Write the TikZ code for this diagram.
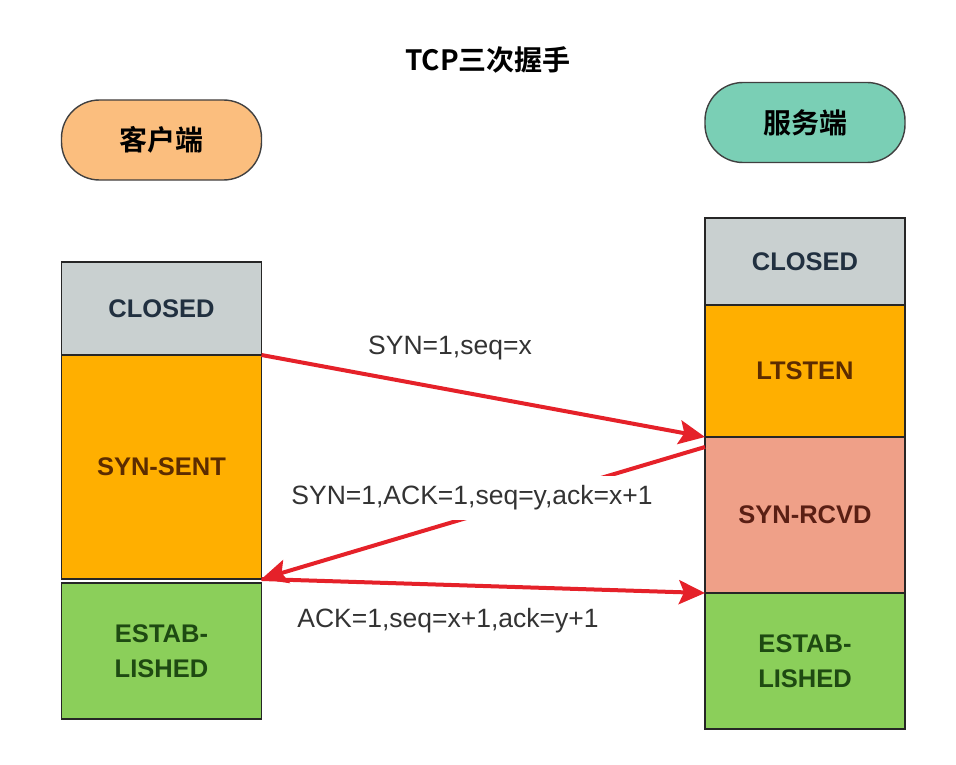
\documentclass[tikz,border=0pt]{standalone}
\usepackage{fontspec}
\setmainfont{Liberation Sans}
\newfontfamily\cjk{Noto Sans CJK SC}[BoldFont={Noto Sans CJK SC Bold}]
\usepackage{xcolor}
\usetikzlibrary{positioning,arrows.meta}
\definecolor{closedgray}{HTML}{C9D0D0}
\definecolor{waitorange}{HTML}{FFAF00}
\definecolor{rcvdsalmon}{HTML}{EFA088}
\definecolor{estabgreen}{HTML}{8BCF5A}
\definecolor{clientpill}{HTML}{FBBE7E}
\definecolor{serverpill}{HTML}{7ACFB5}
\definecolor{msgred}{HTML}{E52129}

\begin{document}
\begin{tikzpicture}[x=1pt,y=-1pt,
stbox/.style={draw=black!85,line width=1.6pt,rectangle,outer sep=0pt,inner sep=0pt,
  minimum width=200pt,align=center,font=\fontsize{25.5}{35}\selectfont\bfseries},
endbox/.style={draw=black!75,line width=1.4pt,rounded corners=38pt,minimum width=200pt,
  minimum height=80pt,font=\cjk\fontsize{28}{30}\selectfont\bfseries},
msg/.style={draw=msgred,line width=4pt,-{Stealth[length=26pt,width=24pt,inset=5pt]}},
msglabel/.style={font=\fontsize{26.5}{30}\selectfont,text=black!80}]
\useasboundingbox (0,0) rectangle (956,765);

\node[font=\cjk\fontsize{28}{30}\selectfont\bfseries] (title) at (488,60) {TCP三次握手};
\node[endbox,fill=clientpill] (client) at (161.5,140) {客户端};
\node[endbox,fill=serverpill] (server) at (805,122.5) {服务端};

% client side
\node[stbox,fill=closedgray,minimum height=93pt,text={rgb,255:red,33;green,48;blue,64}] (cclosed) at (161.5,308.5) {CLOSED};
\node[stbox,fill=waitorange,minimum height=224pt,text={rgb,255:red,92;green,44;blue,0},below=0pt of cclosed] (csent) {SYN-SENT};
\node[stbox,fill=estabgreen,minimum height=136pt,text={rgb,255:red,30;green,74;blue,18},below=4pt of csent] (cestab) {ESTAB-\\LISHED};

% server side
\node[stbox,fill=closedgray,minimum height=87pt,text={rgb,255:red,33;green,48;blue,64}] (sclosed) at (805,261.5) {CLOSED};
\node[stbox,fill=waitorange,minimum height=132pt,text={rgb,255:red,92;green,44;blue,0},below=0pt of sclosed] (slisten) {LTSTEN};
\node[stbox,fill=rcvdsalmon,minimum height=156pt,text={rgb,255:red,90;green,31;blue,20},below=0pt of slisten] (srcvd) {SYN-RCVD};
\node[stbox,fill=estabgreen,minimum height=136pt,text={rgb,255:red,30;green,74;blue,18},below=0pt of srcvd] (sestab) {ESTAB-\\LISHED};

% handshake
\draw[msg] (cclosed.south east) -- (slisten.south west);
\draw[msg] ([yshift=-10pt]srcvd.north west) -- (csent.south east);
\draw[msg] (csent.south east) -- (sestab.north west);

\node[msglabel] (syn) at (450,348) {SYN=1,seq=x};
\node[msglabel,fill=white,inner ysep=10pt] (synack) at (472,498) {SYN=1,ACK=1,seq=y,ack=x+1};
\node[msglabel] (ack) at (448,621) {ACK=1,seq=x+1,ack=y+1};
\end{tikzpicture}
\end{document}
